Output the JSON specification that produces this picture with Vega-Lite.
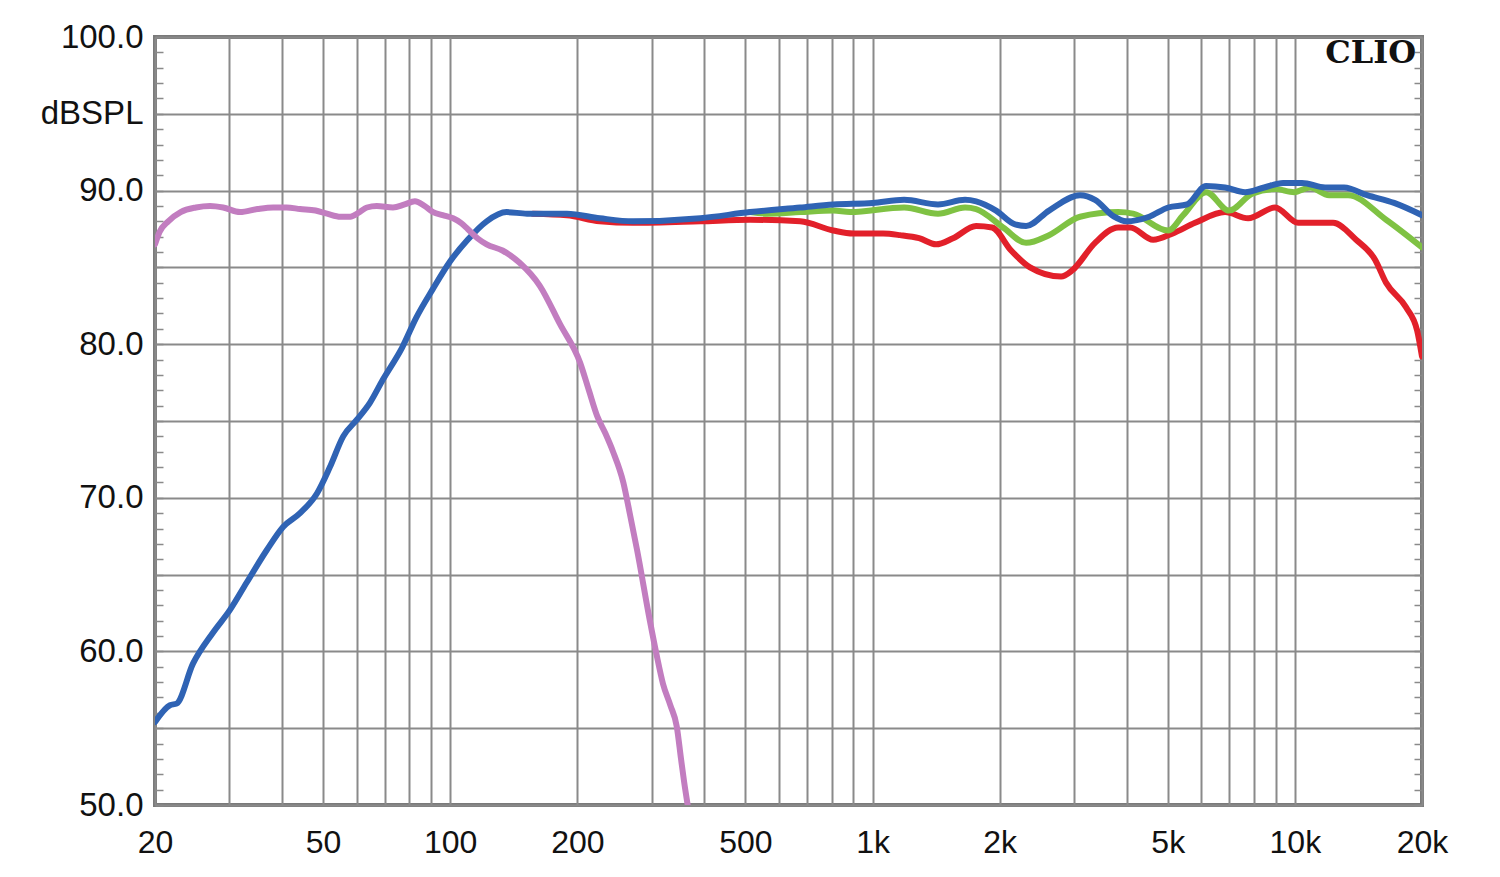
{
  "$schema": "https://vega.github.io/schema/vega-lite/v6.json",
  "autosize": {"type": "none"},
  "padding": {"left": 155, "top": 37, "right": 78, "bottom": 72},
  "width": 1267,
  "height": 768,
  "background": "white",
  "config": {
    "view": {"stroke": "#7a7a7a", "strokeWidth": 4},
    "axis": {"labelFont": "Liberation Sans", "labelColor": "#111111"}
  },
  "datasets": {
    "curves": [
      {"s": "red", "f": 157, "db": 88.5}, {"s": "red", "f": 189, "db": 88.4}, {"s": "red", "f": 226, "db": 88.0}, {"s": "red", "f": 271, "db": 87.9}, {"s": "red", "f": 391, "db": 88.0}, {"s": "red", "f": 513, "db": 88.1}, {"s": "red", "f": 674, "db": 88.0}, {"s": "red", "f": 807, "db": 87.4}, {"s": "red", "f": 900, "db": 87.2}, {"s": "red", "f": 1059, "db": 87.2}, {"s": "red", "f": 1162, "db": 87.1}, {"s": "red", "f": 1289, "db": 86.9}, {"s": "red", "f": 1414, "db": 86.5}, {"s": "red", "f": 1551, "db": 86.9}, {"s": "red", "f": 1759, "db": 87.7}, {"s": "red", "f": 1919, "db": 87.6}, {"s": "red", "f": 2129, "db": 86.1}, {"s": "red", "f": 2360, "db": 85.0}, {"s": "red", "f": 2796, "db": 84.4}, {"s": "red", "f": 2969, "db": 84.8}, {"s": "red", "f": 3364, "db": 86.6}, {"s": "red", "f": 3815, "db": 87.6}, {"s": "red", "f": 4074, "db": 87.6}, {"s": "red", "f": 4618, "db": 86.8}, {"s": "red", "f": 5123, "db": 87.2}, {"s": "red", "f": 5804, "db": 87.9}, {"s": "red", "f": 6836, "db": 88.6}, {"s": "red", "f": 7749, "db": 88.2}, {"s": "red", "f": 8978, "db": 88.9}, {"s": "red", "f": 10180, "db": 87.9}, {"s": "red", "f": 12318, "db": 87.9}, {"s": "red", "f": 13964, "db": 86.8}, {"s": "red", "f": 15486, "db": 85.5}, {"s": "red", "f": 16444, "db": 84.0}, {"s": "red", "f": 18336, "db": 82.4}, {"s": "red", "f": 19472, "db": 80.9}, {"s": "red", "f": 20000, "db": 79.2},
      {"s": "green", "f": 513, "db": 88.6}, {"s": "green", "f": 563, "db": 88.5}, {"s": "green", "f": 674, "db": 88.6}, {"s": "green", "f": 807, "db": 88.7}, {"s": "green", "f": 885, "db": 88.6}, {"s": "green", "f": 1188, "db": 88.9}, {"s": "green", "f": 1429, "db": 88.5}, {"s": "green", "f": 1656, "db": 88.9}, {"s": "green", "f": 1759, "db": 88.8}, {"s": "green", "f": 2038, "db": 87.6}, {"s": "green", "f": 2310, "db": 86.6}, {"s": "green", "f": 2618, "db": 87.1}, {"s": "green", "f": 3100, "db": 88.3}, {"s": "green", "f": 3815, "db": 88.6}, {"s": "green", "f": 4140, "db": 88.5}, {"s": "green", "f": 5012, "db": 87.4}, {"s": "green", "f": 5439, "db": 88.4}, {"s": "green", "f": 6162, "db": 89.9}, {"s": "green", "f": 6986, "db": 88.7}, {"s": "green", "f": 7920, "db": 89.8}, {"s": "green", "f": 8978, "db": 90.1}, {"s": "green", "f": 9961, "db": 89.9}, {"s": "green", "f": 10866, "db": 90.2}, {"s": "green", "f": 12052, "db": 89.7}, {"s": "green", "f": 13366, "db": 89.7}, {"s": "green", "f": 16444, "db": 88.1}, {"s": "green", "f": 20000, "db": 86.3},
      {"s": "blue", "f": 20, "db": 55.4}, {"s": "blue", "f": 21.7, "db": 56.5}, {"s": "blue", "f": 22.5, "db": 56.6}, {"s": "blue", "f": 24.6, "db": 59.2}, {"s": "blue", "f": 27.4, "db": 61.2}, {"s": "blue", "f": 30.1, "db": 62.7}, {"s": "blue", "f": 33, "db": 64.5}, {"s": "blue", "f": 36.8, "db": 66.6}, {"s": "blue", "f": 40.2, "db": 68.1}, {"s": "blue", "f": 44.1, "db": 69.0}, {"s": "blue", "f": 48.4, "db": 70.3}, {"s": "blue", "f": 51.9, "db": 72.0}, {"s": "blue", "f": 55.8, "db": 74.0}, {"s": "blue", "f": 60.2, "db": 75.1}, {"s": "blue", "f": 64.6, "db": 76.2}, {"s": "blue", "f": 69.3, "db": 77.7}, {"s": "blue", "f": 77, "db": 79.8}, {"s": "blue", "f": 83, "db": 81.7}, {"s": "blue", "f": 91, "db": 83.6}, {"s": "blue", "f": 100, "db": 85.4}, {"s": "blue", "f": 110, "db": 86.8}, {"s": "blue", "f": 122, "db": 88.0}, {"s": "blue", "f": 136, "db": 88.6}, {"s": "blue", "f": 152, "db": 88.5}, {"s": "blue", "f": 189, "db": 88.5}, {"s": "blue", "f": 226, "db": 88.2}, {"s": "blue", "f": 271, "db": 88.0}, {"s": "blue", "f": 391, "db": 88.2}, {"s": "blue", "f": 513, "db": 88.6}, {"s": "blue", "f": 674, "db": 88.9}, {"s": "blue", "f": 807, "db": 89.1}, {"s": "blue", "f": 1000, "db": 89.2}, {"s": "blue", "f": 1188, "db": 89.4}, {"s": "blue", "f": 1429, "db": 89.1}, {"s": "blue", "f": 1656, "db": 89.4}, {"s": "blue", "f": 1759, "db": 89.3}, {"s": "blue", "f": 1961, "db": 88.7}, {"s": "blue", "f": 2176, "db": 87.8}, {"s": "blue", "f": 2310, "db": 87.7}, {"s": "blue", "f": 2618, "db": 88.7}, {"s": "blue", "f": 3100, "db": 89.7}, {"s": "blue", "f": 3364, "db": 89.4}, {"s": "blue", "f": 3733, "db": 88.3}, {"s": "blue", "f": 3986, "db": 88.0}, {"s": "blue", "f": 4518, "db": 88.3}, {"s": "blue", "f": 5012, "db": 88.9}, {"s": "blue", "f": 5558, "db": 89.1}, {"s": "blue", "f": 6162, "db": 90.3}, {"s": "blue", "f": 6836, "db": 90.2}, {"s": "blue", "f": 7622, "db": 89.9}, {"s": "blue", "f": 8457, "db": 90.2}, {"s": "blue", "f": 9380, "db": 90.5}, {"s": "blue", "f": 10404, "db": 90.5}, {"s": "blue", "f": 11793, "db": 90.2}, {"s": "blue", "f": 13081, "db": 90.2}, {"s": "blue", "f": 14825, "db": 89.7}, {"s": "blue", "f": 17177, "db": 89.2}, {"s": "blue", "f": 20000, "db": 88.4},
      {"s": "violet", "f": 20, "db": 86.5}, {"s": "violet", "f": 20.5, "db": 87.3}, {"s": "violet", "f": 21.5, "db": 88.0}, {"s": "violet", "f": 23, "db": 88.6}, {"s": "violet", "f": 25, "db": 88.9}, {"s": "violet", "f": 27, "db": 89.0}, {"s": "violet", "f": 29, "db": 88.9}, {"s": "violet", "f": 31.8, "db": 88.6}, {"s": "violet", "f": 35, "db": 88.8}, {"s": "violet", "f": 38.1, "db": 88.9}, {"s": "violet", "f": 41, "db": 88.9}, {"s": "violet", "f": 44.1, "db": 88.8}, {"s": "violet", "f": 48, "db": 88.7}, {"s": "violet", "f": 51.1, "db": 88.5}, {"s": "violet", "f": 55, "db": 88.3}, {"s": "violet", "f": 58, "db": 88.3}, {"s": "violet", "f": 61, "db": 88.6}, {"s": "violet", "f": 63.5, "db": 88.9}, {"s": "violet", "f": 67, "db": 89.0}, {"s": "violet", "f": 73.2, "db": 88.9}, {"s": "violet", "f": 78, "db": 89.1}, {"s": "violet", "f": 82.5, "db": 89.3}, {"s": "violet", "f": 87, "db": 89.0}, {"s": "violet", "f": 91.1, "db": 88.6}, {"s": "violet", "f": 96, "db": 88.4}, {"s": "violet", "f": 101.6, "db": 88.2}, {"s": "violet", "f": 106, "db": 87.9}, {"s": "violet", "f": 110, "db": 87.5}, {"s": "violet", "f": 116, "db": 86.9}, {"s": "violet", "f": 122, "db": 86.5}, {"s": "violet", "f": 133, "db": 86.1}, {"s": "violet", "f": 146, "db": 85.3}, {"s": "violet", "f": 163, "db": 83.8}, {"s": "violet", "f": 182, "db": 81.3}, {"s": "violet", "f": 203, "db": 78.8}, {"s": "violet", "f": 213, "db": 77.0}, {"s": "violet", "f": 223, "db": 75.3}, {"s": "violet", "f": 233, "db": 74.2}, {"s": "violet", "f": 243, "db": 73.0}, {"s": "violet", "f": 257, "db": 71.0}, {"s": "violet", "f": 267, "db": 68.8}, {"s": "violet", "f": 277, "db": 66.6}, {"s": "violet", "f": 297, "db": 62.0}, {"s": "violet", "f": 308, "db": 59.8}, {"s": "violet", "f": 319, "db": 57.9}, {"s": "violet", "f": 332, "db": 56.5}, {"s": "violet", "f": 344, "db": 55.1}, {"s": "violet", "f": 352, "db": 53.0}, {"s": "violet", "f": 358, "db": 51.5}, {"s": "violet", "f": 365, "db": 50.0}
    ],
    "logo": [{"f": 19370, "db": 98.95, "label": "CLIO"}]
  },
  "layer": [
    {
      "data": {"name": "curves"},
      "mark": {"type": "line", "strokeWidth": 6, "clip": true, "strokeCap": "round", "strokeJoin": "round", "interpolate": "monotone"},
      "encoding": {
        "x": {
          "field": "f", "type": "quantitative",
          "scale": {"type": "log", "domain": [20, 20000], "nice": false},
          "axis": {
            "title": null,
            "values": [20, 30, 40, 50, 60, 70, 80, 90, 100, 200, 300, 400, 500, 600, 700, 800, 900, 1000, 2000, 3000, 4000, 5000, 6000, 7000, 8000, 9000, 10000, 20000],
            "labelExpr": "indexof([20,50,100,200,500,1000,2000,5000,10000,20000], datum.value) >= 0 ? (datum.value >= 1000 ? (datum.value/1000) + 'k' : '' + datum.value) : ''",
            "labelOverlap": false, "labelFlush": false,
            "labelFontSize": 32, "labelPadding": 22,
            "ticks": false, "domain": false,
            "grid": true, "gridColor": "#8a8a8a", "gridWidth": 2
          }
        },
        "y": {
          "field": "db", "type": "quantitative",
          "scale": {"domain": [50, 100], "nice": false, "zero": false},
          "axis": {
            "title": null,
            "values": [50, 51, 52, 53, 54, 55, 56, 57, 58, 59, 60, 61, 62, 63, 64, 65, 66, 67, 68, 69, 70, 71, 72, 73, 74, 75, 76, 77, 78, 79, 80, 81, 82, 83, 84, 85, 86, 87, 88, 89, 90, 91, 92, 93, 94, 95, 96, 97, 98, 99, 100],
            "labelExpr": "datum.value == 95 ? 'dBSPL' : (datum.value % 10 == 0 ? format(datum.value, '.1f') : '')",
            "labelOverlap": false, "labelFlush": false,
            "labelFontSize": 33, "labelPadding": 20,
            "domain": false,
            "tickSize": -8, "tickWidth": 1.5, "tickColor": "#8a8a8a",
            "grid": true, "gridColor": "#8a8a8a", "gridWidth": 2,
            "gridOpacity": {"condition": {"test": "datum.value % 5 == 0", "value": 1}, "value": 0}
          }
        },
        "color": {
          "field": "s", "type": "nominal",
          "scale": {"domain": ["red", "green", "blue", "violet"], "range": ["#e2202a", "#7fc243", "#2f63b4", "#c27dc0"]},
          "legend": null
        }
      }
    },
    {
      "data": {"name": "logo"},
      "mark": {"type": "text", "align": "right", "baseline": "middle", "font": "DejaVu Serif", "fontWeight": "bold", "fontSize": 32, "color": "#111111"},
      "encoding": {
        "x": {
          "field": "f", "type": "quantitative",
          "axis": {
            "title": null,
            "values": [20, 30, 40, 50, 60, 70, 80, 90, 100, 200, 300, 400, 500, 600, 700, 800, 900, 1000, 2000, 3000, 4000, 5000, 6000, 7000, 8000, 9000, 10000, 20000],
            "labelExpr": "indexof([20,50,100,200,500,1000,2000,5000,10000,20000], datum.value) >= 0 ? (datum.value >= 1000 ? (datum.value/1000) + 'k' : '' + datum.value) : ''",
            "labelOverlap": false, "labelFlush": false,
            "labelFontSize": 32, "labelPadding": 22,
            "ticks": false, "domain": false,
            "grid": true, "gridColor": "#8a8a8a", "gridWidth": 2
          }
        },
        "y": {
          "field": "db", "type": "quantitative",
          "axis": {
            "orient": "right", "title": null, "labels": false, "domain": false, "grid": false,
            "values": [50, 51, 52, 53, 54, 55, 56, 57, 58, 59, 60, 61, 62, 63, 64, 65, 66, 67, 68, 69, 70, 71, 72, 73, 74, 75, 76, 77, 78, 79, 80, 81, 82, 83, 84, 85, 86, 87, 88, 89, 90, 91, 92, 93, 94, 95, 96, 97, 98, 99, 100],
            "tickSize": -8, "tickWidth": 1.5, "tickColor": "#8a8a8a"
          }
        },
        "text": {"field": "label"}
      }
    }
  ],
  "resolve": {"axis": {"y": "independent"}}
}
